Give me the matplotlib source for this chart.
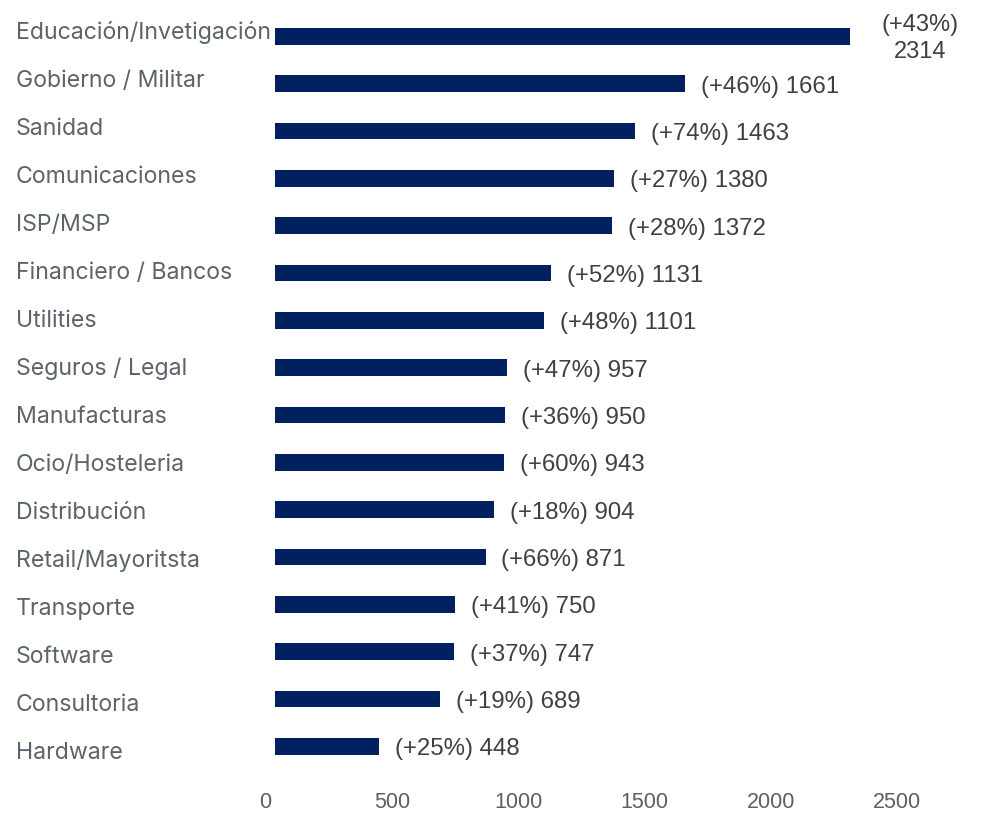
import matplotlib
matplotlib.use("Agg")
import matplotlib.pyplot as plt
from matplotlib.transforms import blended_transform_factory

# Sectors, attack counts and year-on-year growth
sectors = [
    "Educación/Invetigación", "Gobierno / Militar", "Sanidad", "Comunicaciones",
    "ISP/MSP", "Financiero / Bancos", "Utilities", "Seguros / Legal",
    "Manufacturas", "Ocio/Hosteleria", "Distribución", "Retail/Mayoritsta",
    "Transporte", "Software", "Consultoria", "Hardware",
]
values = [2314, 1661, 1463, 1380, 1372, 1131, 1101, 957, 950, 943, 904, 871,
          750, 747, 689, 448]
growth = [43, 46, 74, 27, 28, 52, 48, 47, 36, 60, 18, 66, 41, 37, 19, 25]
xticks = [0, 500, 1000, 1500, 2000, 2500]

BAR = "#002060"
CAT_COLOR = "#5b636b"
VAL_COLOR = "#404040"
TICK_COLOR = "#5f5f5f"

W, H = 981, 814
fig = plt.figure(figsize=(W / 100, H / 100), dpi=100)

# axes placed in pixel units
left_px, right_px, top_px, bottom_px = 275, 960, 10, 775
ax = fig.add_axes([left_px / W, 1 - bottom_px / H,
                   (right_px - left_px) / W, (bottom_px - top_px) / H])

px_per_unit = 0.2526
origin_px = 265.5
ax.set_xlim((left_px - origin_px) / px_per_unit, (right_px - origin_px) / px_per_unit)

first_px, step_px = 36.3, 47.33
ax.set_ylim((bottom_px - first_px) / step_px, (top_px - first_px) / step_px)

pos = list(range(len(sectors)))
ax.barh(pos, values, height=0.35, color=BAR, left=0)

for i, (v, g) in enumerate(zip(values, growth)):
    if v == max(values):
        ax.annotate(f"(+{g}%)\n{v}", xy=(v, i), xytext=(50.5, -1.5),
                    textcoords="offset points", ha="center", va="center",
                    multialignment="center", fontsize=17, color=VAL_COLOR,
                    family="Liberation Sans", linespacing=1.3,
                    annotation_clip=False)
    else:
        ax.annotate(f"(+{g}%) {v}", xy=(v, i), xytext=(11.5, -6.6),
                    textcoords="offset points", ha="left", va="baseline",
                    fontsize=17.3, color=VAL_COLOR, family="Liberation Sans",
                    annotation_clip=False)

# category labels, left-aligned at the figure margin
cat_base0, cat_step = 39.3, 47.98
for i, name in enumerate(sectors):
    fig.text(16 / W, 1 - (cat_base0 + i * cat_step) / H, name, ha="left",
             va="baseline", fontsize=16.65, color=CAT_COLOR, family="Inter")

# x tick labels (drawn as text so the zero label sits left of the clipped bars)
trans = blended_transform_factory(ax.transData, fig.transFigure)
for t in xticks:
    ax.text(t, 0.5 / H, f"{t}", transform=trans, ha="center", va="bottom",
            fontsize=15.5, color=TICK_COLOR, family="Liberation Sans", clip_on=False)

ax.set_xticks([])
ax.set_yticks([])
for s in ax.spines.values():
    s.set_visible(False)
ax.patch.set_alpha(0)

fig.savefig("out.png", dpi=100)
